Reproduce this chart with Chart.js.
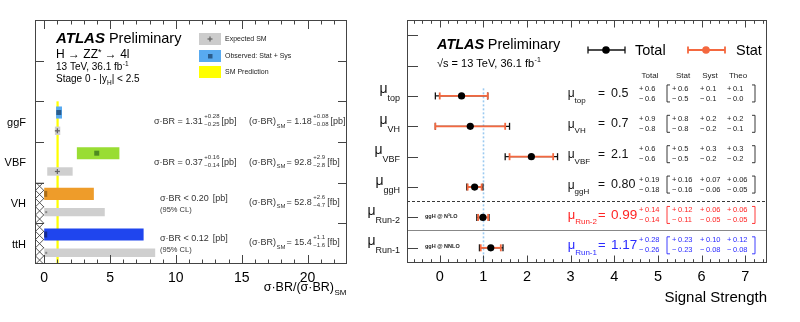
<!DOCTYPE html>
<html><head><meta charset="utf-8">
<script src="https://cdn.jsdelivr.net/npm/chart.js@4.4.1/dist/chart.umd.min.js"></script>
<style>
html,body{margin:0;padding:0;background:#fff;}
body{width:800px;height:322px;position:relative;overflow:hidden}
canvas{position:absolute;top:0}
#c1{left:0}
#c2{left:350px}
</style></head><body>
<canvas id="c1" width="350" height="322"></canvas>
<canvas id="c2" width="450" height="322"></canvas>
<script>
// ===== Left panel data: sigma*BR / (sigma*BR)_SM =====
const rowsL = ['', '', 'ggF', 'VBF', 'VH', 'ttH'];
const obsLow = [null, null, 0.90, 2.48, 0, 0];
const obsHigh = [null, null, 1.35, 5.71, 3.77, 7.55];
const obsCentral = [null, null, 1.11, 3.99, 0, 0];
const expLow = [null, null, 0.81, 0.23, 0, 0];
const expHigh = [null, null, 1.22, 2.16, 4.60, 8.43];
const expCentral = [null, null, 1, 1, 0, 0];
const obsColors = [null, null, '#58aaf0', '#99dd33', '#ee9c2a', '#1f45ee'];
const obsMarkColors = [null, null, '#2b5c8c', '#4e8a20', '#a86c1a', '#132a90'];
const xsecText = [null, null, '1.31', '0.37', '0.20', '0.12'];
const xsecUp = [null, null, '+0.28', '+0.16', null, null];
const xsecDn = [null, null, '\u22120.25', '\u22120.14', null, null];
const smVal = [null, null, '1.18', '92.8', '52.8', '15.4'];
const smUp = [null, null, '+0.08', '+2.9', '+2.6', '+1.1'];
const smDn = [null, null, '\u22120.08', '\u22122.8', '\u22124.7', '\u22121.6'];
const smUnit = [null, null, '[pb]', '[fb]', '[fb]', '[fb]'];
const xTicksL = [0, 5, 10, 15, 20];

// ===== Right panel data: signal strengths =====
const muNames = ['top', 'VH', 'VBF', 'ggH', 'Run-2', 'Run-1'];
const muVal = [0.5, 0.7, 2.1, 0.80, 0.99, 1.17];
const muDec = [1, 1, 1, 2, 2, 2];
const totUp = [0.6, 0.9, 0.6, 0.19, 0.14, 0.28];
const totDn = [0.6, 0.8, 0.6, 0.18, 0.14, 0.26];
const statUp = [0.6, 0.8, 0.5, 0.16, 0.12, 0.23];
const statDn = [0.5, 0.8, 0.5, 0.16, 0.11, 0.23];
const systUp = [0.1, 0.2, 0.3, 0.07, 0.06, 0.10];
const systDn = [0.1, 0.2, 0.2, 0.06, 0.05, 0.08];
const theoUp = [0.1, 0.2, 0.3, 0.06, 0.06, 0.12];
const theoDn = [0.0, 0.1, 0.2, 0.05, 0.05, 0.08];
const muColors = ['#111', '#111', '#111', '#111', '#ff2424', '#2b2bff'];
const muNotes = [null, null, null, null, 'ggH @ N\u00b3LO', 'ggH @ NNLO'];
const xTicksR = [0, 1, 2, 3, 4, 5, 6, 7];

const FONT = '"Liberation Sans", Arial, Helvetica, sans-serif';
Chart.defaults.font.family = FONT;
const ORANGE = '#f4683f';

function fnt(size, bold, italic) { return (italic ? 'italic ' : '') + (bold ? 'bold ' : '') + size + 'px ' + FONT; }
function T(ctx, s, x, y, size, o) {
  o = o || {};
  ctx.save();
  ctx.font = fnt(size, o.bold, o.italic);
  ctx.fillStyle = o.color || '#000';
  ctx.textAlign = o.align || 'left';
  ctx.textBaseline = o.base || 'alphabetic';
  ctx.fillText(s, x, y);
  const w = ctx.measureText(s).width;
  ctx.restore();
  return w;
}
function W(ctx, s, size, o) {
  o = o || {};
  ctx.save(); ctx.font = fnt(size, o.bold, o.italic);
  const w = ctx.measureText(s).width; ctx.restore(); return w;
}
function stack(ctx, sup, sub, x, yc, size, color) {
  const w1 = T(ctx, sup, x, yc - 5 + size * 0.36, size, {color});
  const w2 = T(ctx, sub, x, yc + 3 + size * 0.36, size, {color});
  return Math.max(w1, w2);
}
function line(ctx, x0, y0, x1, y1) { ctx.beginPath(); ctx.moveTo(x0, y0); ctx.lineTo(x1, y1); ctx.stroke(); }

// ---------- Left panel plugin ----------
const leftPlugin = {
  id: 'leftDeco',
  beforeDatasetsDraw(chart) {
    const {ctx, chartArea: a, scales: {x, y}} = chart;
    const rowH = y.getPixelForValue(1) - y.getPixelForValue(0);
    const rowTop = i => y.getPixelForValue(i) - rowH / 2;
    // hatch for negative region (VH, ttH)
    const hx0 = a.left, hx1 = x.getPixelForValue(0);
    const hy0 = rowTop(4), hy1 = a.bottom;
    ctx.save();
    ctx.beginPath(); ctx.rect(hx0, hy0, hx1 - hx0, hy1 - hy0); ctx.clip();
    ctx.strokeStyle = '#444'; ctx.lineWidth = 0.9;
    const sp = 8.2, dw = hx1 - hx0;
    ctx.beginPath();
    for (let yy = hy0 - dw - 2 * sp; yy < hy1 + sp; yy += sp) {
      ctx.moveTo(hx0, yy); ctx.lineTo(hx1, yy + dw);
      ctx.moveTo(hx0, yy + dw); ctx.lineTo(hx1, yy);
    }
    ctx.stroke();
    ctx.restore();
    ctx.save(); ctx.strokeStyle = '#666'; ctx.lineWidth = 1;
    line(ctx, hx0, hy0 + 0.5, hx1 - 1, hy0 + 0.5);
    ctx.restore();
    // SM prediction band
    ctx.save();
    ctx.fillStyle = '#ffff00';
    const bx0 = x.getPixelForValue(0.93), bx1 = x.getPixelForValue(1.1);
    ctx.fillRect(bx0, rowTop(2), bx1 - bx0, a.bottom - rowTop(2));
    ctx.restore();
  },
  afterDatasetsDraw(chart) {
    const {ctx, scales: {x}} = chart;
    const mo = chart.getDatasetMeta(0).data, me = chart.getDatasetMeta(1).data;
    ctx.save();
    for (let i = 0; i < rowsL.length; i++) {
      if (obsCentral[i] != null && mo[i]) {
        ctx.fillStyle = obsMarkColors[i];
        const px = x.getPixelForValue(obsCentral[i]);
        if (obsCentral[i] > 0) ctx.fillRect(px - 2.5, mo[i].y - 2.5, 5, 5);
        else ctx.fillRect(px, mo[i].y - 3, 3, 6);
      }
      if (expCentral[i] != null && me[i]) {
        const px = x.getPixelForValue(expCentral[i]);
        if (expCentral[i] > 0) {
          ctx.strokeStyle = '#666'; ctx.lineWidth = 1.3;
          line(ctx, px - 2.5, me[i].y, px + 2.5, me[i].y);
          line(ctx, px, me[i].y - 2.5, px, me[i].y + 2.5);
        } else {
          ctx.fillStyle = '#888';
          ctx.fillRect(px + 1, me[i].y - 1, 2, 2);
        }
      }
    }
    ctx.restore();
  },
  afterDraw(chart) {
    const {ctx, chartArea: a, scales: {x, y}} = chart;
    const rowH = y.getPixelForValue(1) - y.getPixelForValue(0);
    ctx.save();
    ctx.strokeStyle = '#444'; ctx.lineWidth = 1;
    ctx.strokeRect(a.left + 0.5, a.top + 0.5, a.width - 1, a.height - 1);
    // x ticks (inward, top and bottom)
    for (let v = 0; v <= 23; v += 1) {
      const px = Math.round(x.getPixelForValue(v)) + 0.5;
      if (px > a.right - 1) continue;
      const L = (v % 5 === 0) ? 9 : 4.5;
      line(ctx, px, a.bottom, px, a.bottom - L);
      line(ctx, px, a.top, px, a.top + L);
    }
    // y ticks at row boundaries (both sides)
    for (let k = 1; k < rowsL.length; k++) {
      const py = Math.round(y.getPixelForValue(k) - rowH / 2) + 0.5;
      line(ctx, a.left, py, a.left + 9, py);
      line(ctx, a.right, py, a.right - 9, py);
    }
    ctx.restore();
    // x tick labels
    xTicksL.forEach(v => T(ctx, String(v), x.getPixelForValue(v), a.bottom + 14, 14, {align: 'center', base: 'middle'}));
    // axis title  sigma.BR/(sigma.BR)_SM  right-aligned
    const wSM = W(ctx, 'SM', 8), wT = W(ctx, '\u03c3\u00b7BR/(\u03c3\u00b7BR)', 12.5);
    const tx = a.right - wSM - wT - 1;
    T(ctx, '\u03c3\u00b7BR/(\u03c3\u00b7BR)', tx, 291, 12.5);
    T(ctx, 'SM', tx + wT + 0.5, 295, 8);
    // category labels
    for (let i = 0; i < rowsL.length; i++) {
      if (rowsL[i]) T(ctx, rowsL[i], 26, y.getPixelForValue(i) + 1, 11, {align: 'right', base: 'middle'});
    }
    // row texts
    const col = '#333';
    for (let i = 0; i < rowsL.length; i++) {
      if (!xsecText[i]) continue;
      const yc = y.getPixelForValue(i);
      if (xsecUp[i]) {
        const ym = yc - 0.5;
        let cx = 154;
        cx += T(ctx, '\u03c3\u00b7BR = ' + xsecText[i], cx, ym + 3.2, 9, {color: col}) + 1.5;
        cx += stack(ctx, xsecUp[i], xsecDn[i], cx, ym, 6, col) + 2;
        T(ctx, '[pb]', cx, ym + 3.2, 9, {color: col});
      } else {
        const ym = yc - 5.5;
        let cx = 160;
        cx += T(ctx, '\u03c3\u00b7BR < ' + xsecText[i], cx, ym + 3.2, 9, {color: col}) + 4;
        T(ctx, '[pb]', cx, ym + 3.2, 9, {color: col});
        T(ctx, '(95% CL)', 160, yc + 6 + 2.7, 7.5, {color: col});
      }
      const ys = i >= 4 ? yc - 1.5 : yc - 0.5;
      let sx = 249;
      sx += T(ctx, '(\u03c3\u00b7BR)', sx, ys + 3.2, 9, {color: col}) + 0.5;
      sx += T(ctx, 'SM', sx, ys + 6.5, 6, {color: col}) + 1;
      sx += T(ctx, '= ' + smVal[i], sx, ys + 3.2, 9, {color: col}) + 1.5;
      sx += stack(ctx, smUp[i], smDn[i], sx, ys, 6, col) + 2;
      T(ctx, smUnit[i], sx, ys + 3.2, 9, {color: col});
    }
    // ATLAS label
    let ax = 56;
    ax += T(ctx, 'ATLAS', ax, 43, 15, {bold: true, italic: true}) + 4;
    T(ctx, 'Preliminary', ax, 43, 14.5);
    let hx = 56;
    hx += T(ctx, 'H \u2192 ZZ', hx, 58, 12);
    hx += T(ctx, '*', hx, 55, 9);
    T(ctx, ' \u2192 4l', hx, 58, 12);
    let bx = 56;
    bx += T(ctx, '13 TeV, 36.1 fb', bx, 69.5, 10);
    T(ctx, '-1', bx + 0.5, 65.5, 6.5);
    let sx2 = 56;
    sx2 += T(ctx, 'Stage 0 - |y', sx2, 81.5, 10);
    sx2 += T(ctx, 'H', sx2, 84.5, 6.5);
    T(ctx, '| < 2.5', sx2, 81.5, 10);
    // legend
    ctx.save();
    ctx.fillStyle = '#cccccc'; ctx.fillRect(199, 33, 22, 12);
    ctx.strokeStyle = '#666'; ctx.lineWidth = 1.3;
    line(ctx, 207.5, 39, 212.5, 39); line(ctx, 210, 36.5, 210, 41.5);
    ctx.fillStyle = '#58aaf0'; ctx.fillRect(199, 50, 22, 12);
    ctx.fillStyle = '#2b5c8c'; ctx.fillRect(208, 54, 4.5, 4.5);
    ctx.fillStyle = '#ffff00'; ctx.fillRect(199, 66, 22, 12);
    ctx.restore();
    T(ctx, 'Expected SM', 225, 39.5, 7, {base: 'middle', color: '#222'});
    T(ctx, 'Observed: Stat + Sys', 225, 56, 7, {base: 'middle', color: '#222'});
    T(ctx, 'SM Prediction', 225, 72.5, 7, {base: 'middle', color: '#222'});
  }
};

new Chart(document.getElementById('c1'), {
  type: 'bar',
  data: {
    labels: rowsL,
    datasets: [
      {label: 'Observed: Stat + Sys', data: rowsL.map((_, i) => obsHigh[i] == null ? null : [obsLow[i], obsHigh[i]]),
       backgroundColor: obsColors, barPercentage: 0.66, categoryPercentage: 0.9, borderWidth: 0},
      {label: 'Expected SM', data: rowsL.map((_, i) => expHigh[i] == null ? null : [expLow[i], expHigh[i]]),
       backgroundColor: '#cfcfcf', barPercentage: 0.46, categoryPercentage: 0.9, borderWidth: 0}
    ]
  },
  options: {
    indexAxis: 'y', responsive: false, animation: false, devicePixelRatio: 1,
    layout: {padding: {left: 35, right: 3, top: 20, bottom: 58}},
    plugins: {legend: {display: false}, tooltip: {enabled: false}},
    scales: {
      x: {type: 'linear', min: -0.7, max: 23, display: false},
      y: {type: 'category', display: false, offset: true}
    }
  },
  plugins: [leftPlugin]
});

// ---------- Right panel plugin ----------
function errbar(ctx, x0, x1, yc, color, lw, cap) {
  ctx.save(); ctx.strokeStyle = color; ctx.lineWidth = lw;
  line(ctx, x0, yc, x1, yc);
  line(ctx, x0, yc - cap, x0, yc + cap);
  line(ctx, x1, yc - cap, x1, yc + cap);
  ctx.restore();
}
const fmt = (v, d, s) => (s > 0 ? '+' : '\u2212') + '\u2009' + v.toFixed(d);

const rightPlugin = {
  id: 'rightDeco',
  beforeDatasetsDraw(chart) {
    const {ctx, chartArea: a, scales: {x, y}} = chart;
    ctx.save();
    // SM reference line
    ctx.strokeStyle = '#9ccaf0'; ctx.lineWidth = 1.6; ctx.setLineDash([2, 2]);
    const x1 = Math.round(x.getPixelForValue(1)) + 0.5;
    line(ctx, x1, y.getPixelForValue(2.25), x1, a.bottom);
    ctx.setLineDash([3, 2]); ctx.strokeStyle = '#222'; ctx.lineWidth = 0.9;
    const yd = Math.round(y.getPixelForValue(5.95)) + 0.5;
    line(ctx, a.left, yd, a.right, yd);
    ctx.setLineDash([]); ctx.strokeStyle = '#888'; ctx.lineWidth = 1.2;
    const ys = Math.round(y.getPixelForValue(6.93)) + 0.5;
    line(ctx, a.left, ys, a.right, ys);
    ctx.restore();
    // error bars
    for (let i = 0; i < muVal.length; i++) {
      const yc = y.getPixelForValue(i + 2.5);
      errbar(ctx, x.getPixelForValue(muVal[i] - totDn[i]), x.getPixelForValue(muVal[i] + totUp[i]), yc, '#111', 1.3, 3.5);
      errbar(ctx, x.getPixelForValue(muVal[i] - statDn[i]), x.getPixelForValue(muVal[i] + statUp[i]), yc, ORANGE, 1.8, 3.5);
    }
  },
  afterDraw(chart) {
    const {ctx, chartArea: a, scales: {x, y}} = chart;
    ctx.save();
    ctx.strokeStyle = '#444'; ctx.lineWidth = 1;
    ctx.strokeRect(a.left + 0.5, a.top + 0.5, a.width - 1, a.height - 1);
    for (let k = -3; k <= 37; k++) {
      const v = k * 0.2;
      if (v <= x.min || v >= x.max) continue;
      const px = Math.round(x.getPixelForValue(v)) + 0.5;
      const L = (k % 5 === 0) ? 7.5 : 3.8;
      line(ctx, px, a.bottom, px, a.bottom - L);
      line(ctx, px, a.top, px, a.top + L);
    }
    for (let r = 0; r < 8; r++) {
      const py = Math.round(y.getPixelForValue(r + 0.5)) + 0.5;
      line(ctx, a.left, py, a.left + 11, py);
    }
    ctx.restore();
    xTicksR.forEach(v => T(ctx, String(v), x.getPixelForValue(v), a.bottom + 14, 14.5, {align: 'center', base: 'middle'}));
    T(ctx, 'Signal Strength', a.right, 302, 15, {align: 'right'});

    // ATLAS label
    let ax = 87;
    ax += T(ctx, 'ATLAS', ax, 48.5, 14.5, {bold: true, italic: true}) + 3.5;
    T(ctx, 'Preliminary', ax, 48.5, 14.5);
    let bx = 87;
    bx += T(ctx, '\u221as = 13 TeV, 36.1 fb', bx, 66.5, 11);
    T(ctx, '-1', bx + 0.5, 62, 7);

    // legend
    errbar(ctx, 238, 275, 50, '#111', 1.3, 3.5);
    ctx.save(); ctx.fillStyle = '#000'; ctx.beginPath(); ctx.arc(256, 50, 3.8, 0, 2 * Math.PI); ctx.fill(); ctx.restore();
    T(ctx, 'Total', 285, 50.5, 14.5, {base: 'middle'});
    errbar(ctx, 338, 375, 50, ORANGE, 1.8, 3.5);
    ctx.save(); ctx.fillStyle = ORANGE; ctx.beginPath(); ctx.arc(356, 50, 3.8, 0, 2 * Math.PI); ctx.fill(); ctx.restore();
    T(ctx, 'Stat', 386, 50.5, 14.5, {base: 'middle'});

    // column headers
    const cols = {tot: 289, lb: 317, stat: 322, syst: 350, theo: 377, rb: 405};
    T(ctx, 'Total', 300, 75.5, 8, {align: 'center', base: 'middle', color: '#222'});
    T(ctx, 'Stat', 333, 75.5, 8, {align: 'center', base: 'middle', color: '#222'});
    T(ctx, 'Syst', 360, 75.5, 8, {align: 'center', base: 'middle', color: '#222'});
    T(ctx, 'Theo', 388, 75.5, 8, {align: 'center', base: 'middle', color: '#222'});

    for (let i = 0; i < muVal.length; i++) {
      const yc = y.getPixelForValue(i + 2.5);
      const c = muColors[i];
      const tc = i < 4 ? '#222' : c;
      // outside y label (right aligned)
      const wm = W(ctx, '\u03bc', 14), ws = W(ctx, muNames[i], 9);
      const lx = a.left - 7 - wm - ws;
      T(ctx, '\u03bc', lx, yc - 2.5, 14, {color: '#111'});
      T(ctx, muNames[i], lx + wm, yc + 5.5, 9, {color: '#111'});
      // inside label
      const isz = i < 4 ? 12 : 13;
      const iw = T(ctx, '\u03bc', 217.7, yc + 1.5, isz, {color: c});
      T(ctx, muNames[i], 217.7 + iw, yc + 7, 8, {color: c});
      T(ctx, '=', 248, yc - 2.5, isz, {base: 'middle', color: c});
      T(ctx, muVal[i].toFixed(muDec[i]), 261, yc - 2.5, isz + 0.5, {base: 'middle', color: c});
      const d = muDec[i];
      const up = (arr) => fmt(arr[i], d, 1), dn = (arr) => fmt(arr[i], d, -1);
      const rows = [[cols.tot, totUp, totDn], [cols.stat, statUp, statDn], [cols.syst, systUp, systDn], [cols.theo, theoUp, theoDn]];
      rows.forEach(([cx, U, D]) => {
        T(ctx, up(U), cx, yc - 7.5, 7.5, {base: 'middle', color: tc});
        T(ctx, dn(D), cx, yc + 2.5, 7.5, {base: 'middle', color: tc});
      });
      ctx.save(); ctx.strokeStyle = tc; ctx.lineWidth = 0.9;
      const bt = yc - 11, bb = yc + 6;
      ctx.beginPath(); ctx.moveTo(cols.lb + 3, bt); ctx.lineTo(cols.lb, bt); ctx.lineTo(cols.lb, bb); ctx.lineTo(cols.lb + 3, bb); ctx.stroke();
      ctx.beginPath(); ctx.moveTo(cols.rb - 3, bt); ctx.lineTo(cols.rb, bt); ctx.lineTo(cols.rb, bb); ctx.lineTo(cols.rb - 3, bb); ctx.stroke();
      ctx.restore();
      if (muNotes[i]) T(ctx, muNotes[i], 75, yc - 1, 5.5, {bold: true, base: 'middle', color: '#222'});
    }
  }
};

new Chart(document.getElementById('c2'), {
  type: 'scatter',
  data: {
    datasets: [{
      label: 'Total',
      data: muVal.map((v, i) => ({x: v, y: i + 2.5})),
      backgroundColor: '#000', borderColor: '#000', pointRadius: 3.6, borderWidth: 0
    }]
  },
  options: {
    responsive: false, animation: false, devicePixelRatio: 1,
    layout: {padding: {left: 57, right: 33, top: 20, bottom: 59}},
    plugins: {legend: {display: false}, tooltip: {enabled: false}},
    scales: {
      x: {type: 'linear', min: -0.75, max: 7.5, display: false},
      y: {type: 'linear', min: 0, max: 8, reverse: true, display: false}
    }
  },
  plugins: [rightPlugin]
});
</script>
</body></html>
